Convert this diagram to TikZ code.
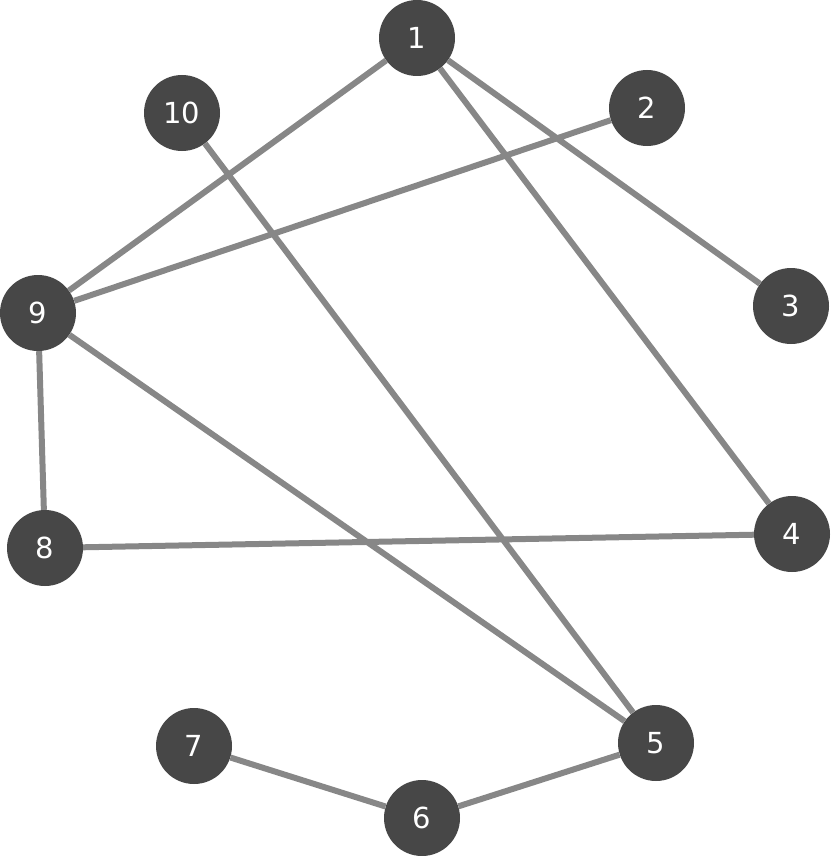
\documentclass[tikz,border=0pt]{standalone}
\usepackage{fontspec}
\setsansfont{DejaVu Sans}
\begin{document}
\begin{tikzpicture}[x=1pt,y=-1pt,
  vtx/.style={circle,fill=black!72,text=white,minimum size=76pt,inner sep=0pt,font=\sffamily\fontsize{29}{29}\selectfont},
  edge/.style={draw=black!47,line width=6pt}]
\useasboundingbox (0,0) rectangle (831,856);
\node[vtx] (n1) at (417,38) {1};
\node[vtx] (n2) at (647,108) {2};
\node[vtx] (n3) at (791,306) {3};
\node[vtx] (n4) at (792,534) {4};
\node[vtx] (n5) at (656,743) {5};
\node[vtx] (n6) at (422,818) {6};
\node[vtx] (n7) at (194,746) {7};
\node[vtx] (n8) at (45,548) {8};
\node[vtx] (n9) at (38,313) {9};
\node[vtx] (n10) at (182,113) {10};
\begin{scope}[on background layer/.style={}]
\end{scope}
\path[edge] (n1)--(n9) (n1)--(n3) (n1)--(n4) (n2)--(n9) (n10)--(n5) (n9)--(n5) (n9)--(n8) (n8)--(n4) (n7)--(n6) (n6)--(n5);
\end{tikzpicture}
\end{document}
